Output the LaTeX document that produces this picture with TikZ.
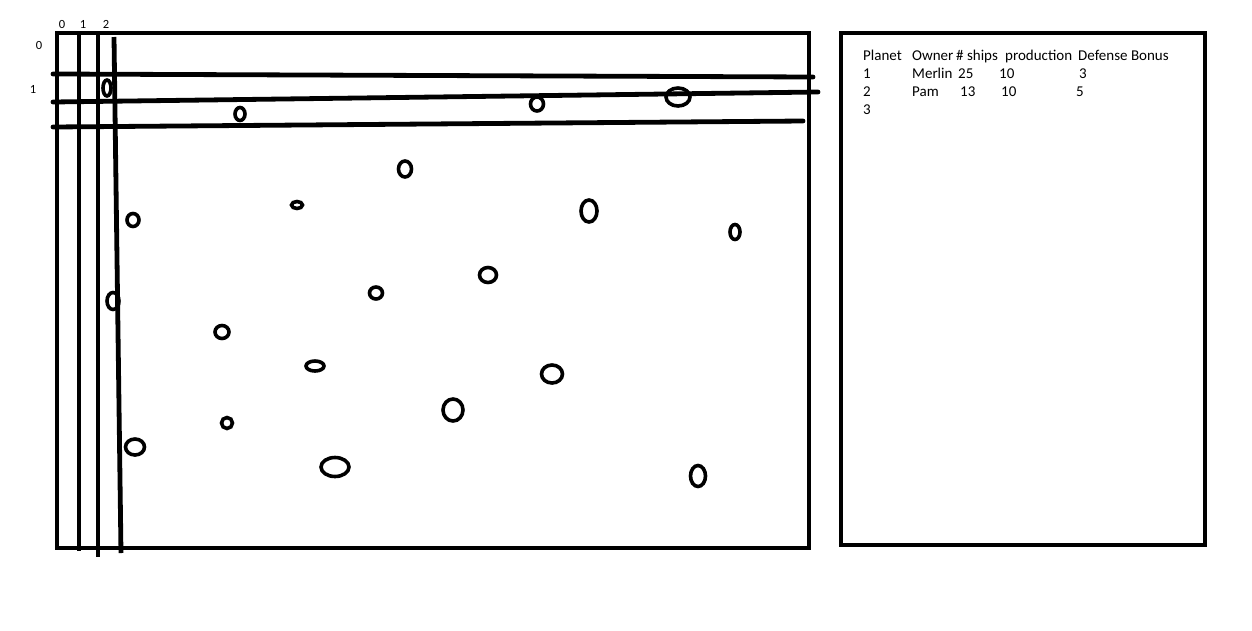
\documentclass[tikz,border=0pt]{standalone}
\usepackage{fontspec}
\setmainfont{Carlito}
\begin{document}
\begin{tikzpicture}[x=1pt,y=-1pt]
\tikzstyle{every node}=[inner sep=0pt]
\tikzset{pen/.style={line width=4.8pt},
  planet/.style={line width=3.6pt},
  idx/.style={font=\fontsize{12.5}{14}\selectfont},
  cell/.style={anchor=base west,font=\fontsize{15}{17}\selectfont}}

% white page, same size as the sketch
\useasboundingbox[fill=white] (0,0) rectangle (1252,630);

% map frame and table frame
\draw[pen] (57,33) rectangle (809,548);
\draw[pen] (841,33) rectangle (1205,545);

% grid columns
\draw[pen] (79,33) -- (79,551);
\draw[pen] (98,33) -- (98,557);
\draw[pen] (114,37) -- (121,553);

% grid rows
\draw[pen, line cap=round] (53,74) -- (813,77);
\draw[pen, line cap=round] (53,102) -- (818,92);
\draw[pen, line cap=round] (53,127) -- (803,121);

% grid indices
\node[idx] (col0) at (62,24) {0};
\node[idx] (col1) at (83,24) {1};
\node[idx] (col2) at (106,24) {2};
\node[idx] (row0) at (39,45) {0};
\node[idx] (row1) at (33,89) {1};

% planets
\foreach \x/\y/\a/\b in {107/88/4/8, 240/114/5/6.5, 537/104/6.5/7, 678/97/12/9,
    405/169/6.5/8, 297/205/5.5/3.5, 133/220/6/6.5, 589/211/8/11, 735/232/5/7.5,
    488/275/8.5/7.5, 376/293/6.5/6, 113/301/6/8.5, 222/332/7/6.5, 315/366/9/5,
    552/374/10.5/9, 453/410/10/11, 227/423/5.5/5.5, 135/447/9.5/8,
    335/467/14/9.5, 698/476/7.5/10.5}
  \draw[planet] (\x,\y) ellipse [x radius=\a pt, y radius=\b pt];

% planet table
\node[cell] (hPlanet) at (863,60) {Planet};
\node[cell] (hOwner) at (912,60) {Owner};
\node[cell] (hShips) at (956,60) {\# ships};
\node[cell] (hProd) at (1005,60) {production};
\node[cell] (hDef) at (1078,60) {Defense Bonus};

\node[cell] (p1) at (863,78) {1};
\node[cell] (o1) at (912,78) {Merlin};
\node[cell] (s1) at (958,78) {25};
\node[cell] (pr1) at (999,78) {10};
\node[cell] (d1) at (1079,78) {3};

\node[cell] (p2) at (863,96) {2};
\node[cell] (o2) at (912,96) {Pam};
\node[cell] (s2) at (960,96) {13};
\node[cell] (pr2) at (1001,96) {10};
\node[cell] (d2) at (1076,96) {5};

\node[cell] (p3) at (863,114) {3};

\end{tikzpicture}
\end{document}
